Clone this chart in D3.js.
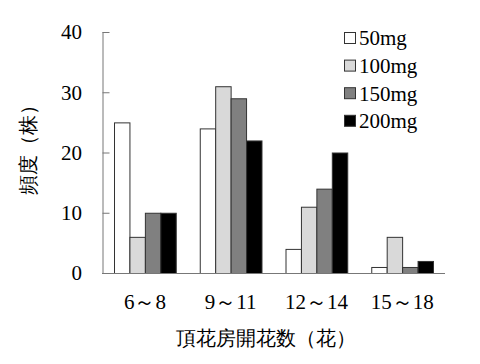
<!DOCTYPE html>
<html>
<head>
<meta charset="utf-8">
<script src="https://cdn.jsdelivr.net/npm/d3@7"></script>
</head>
<body style="margin:0;background:#fff">
<div id="chart"></div>
<script>
const categories = ["6～8", "9～11", "12～14", "15～18"];
const series = ["50mg", "100mg", "150mg", "200mg"];
const values = [
  [25, 6, 10, 10],
  [24, 31, 29, 22],
  [4, 11, 14, 20],
  [1, 6, 1, 2]
];
const yTicks = [0, 10, 20, 30, 40];
const colors = ["#ffffff", "#d9d9d9", "#808080", "#000000"];

const width = 480, height = 364;
const plot = {left: 102, right: 445, top: 32, bottom: 273};

const svg = d3.select("#chart").append("svg")
  .attr("width", width)
  .attr("height", height)
  .attr("font-family", "'Liberation Serif', serif");

const x = d3.scaleBand()
  .domain(categories)
  .range([plot.left, plot.right])
  .paddingInner(0.28)
  .paddingOuter(0.14);

const xs = d3.scaleBand()
  .domain(series)
  .range([0, x.bandwidth()]);

const y = d3.scaleLinear()
  .domain([0, 40])
  .range([plot.bottom, plot.top]);

// bars
const groups = svg.append("g").selectAll("g")
  .data(categories)
  .join("g")
  .attr("transform", d => `translate(${x(d)},0)`);

groups.selectAll("rect")
  .data((d, i) => values[i].map((v, j) => ({key: series[j], value: v, color: colors[j]})))
  .join("rect")
  .attr("x", d => xs(d.key) + 0.5)
  .attr("y", d => y(d.value) + 0.5)
  .attr("width", xs.bandwidth())
  .attr("height", d => plot.bottom - y(d.value))
  .attr("fill", d => d.color)
  .attr("stroke", "#333")
  .attr("stroke-width", 1);

// y axis, ticks pointing inward
const yAxis = svg.append("g")
  .attr("transform", `translate(${plot.left + 0.5},0)`)
  .call(d3.axisRight(y).tickValues(yTicks).tickSize(7).tickFormat(""));
yAxis.select(".domain").attr("d", `M0.5,${plot.top}V${plot.bottom}`).attr("stroke", "#777");
yAxis.selectAll(".tick line").attr("stroke", "#777");

svg.append("g").selectAll("text")
  .data(yTicks)
  .join("text")
  .attr("x", 82)
  .attr("y", d => y(d))
  .attr("dy", "0.35em")
  .attr("text-anchor", "end")
  .attr("font-size", 21)
  .text(d => d);

// x axis baseline
svg.append("line")
  .attr("x1", plot.left)
  .attr("x2", plot.right)
  .attr("y1", plot.bottom + 0.5)
  .attr("y2", plot.bottom + 0.5)
  .attr("stroke", "#777");

svg.append("g").selectAll("text")
  .data(categories)
  .join("text")
  .attr("x", d => x(d) + x.bandwidth() / 2)
  .attr("y", 302)
  .attr("dy", "0.35em")
  .attr("text-anchor", "middle")
  .attr("font-size", 21)
  .text(d => d);

// axis titles
svg.append("text")
  .attr("x", 266)
  .attr("y", 338)
  .attr("dy", "0.35em")
  .attr("text-anchor", "middle")
  .attr("font-size", 20)
  .text("頂花房開花数（花）");

svg.append("text")
  .attr("transform", "translate(28,145) rotate(-90)")
  .attr("dy", "0.35em")
  .attr("text-anchor", "middle")
  .attr("font-size", 20)
  .text("頻度（株）");

// legend
const legend = svg.append("g").selectAll("g")
  .data(series)
  .join("g")
  .attr("transform", (d, i) => `translate(344,${38 + i * 27.6})`);

legend.append("rect")
  .attr("x", 0.5)
  .attr("y", -5.5)
  .attr("width", 11)
  .attr("height", 11)
  .attr("fill", (d, i) => colors[i])
  .attr("stroke", "#333");

legend.append("text")
  .attr("x", 15)
  .attr("dy", "0.35em")
  .attr("font-size", 21)
  .text(d => d);
</script>
</body>
</html>
